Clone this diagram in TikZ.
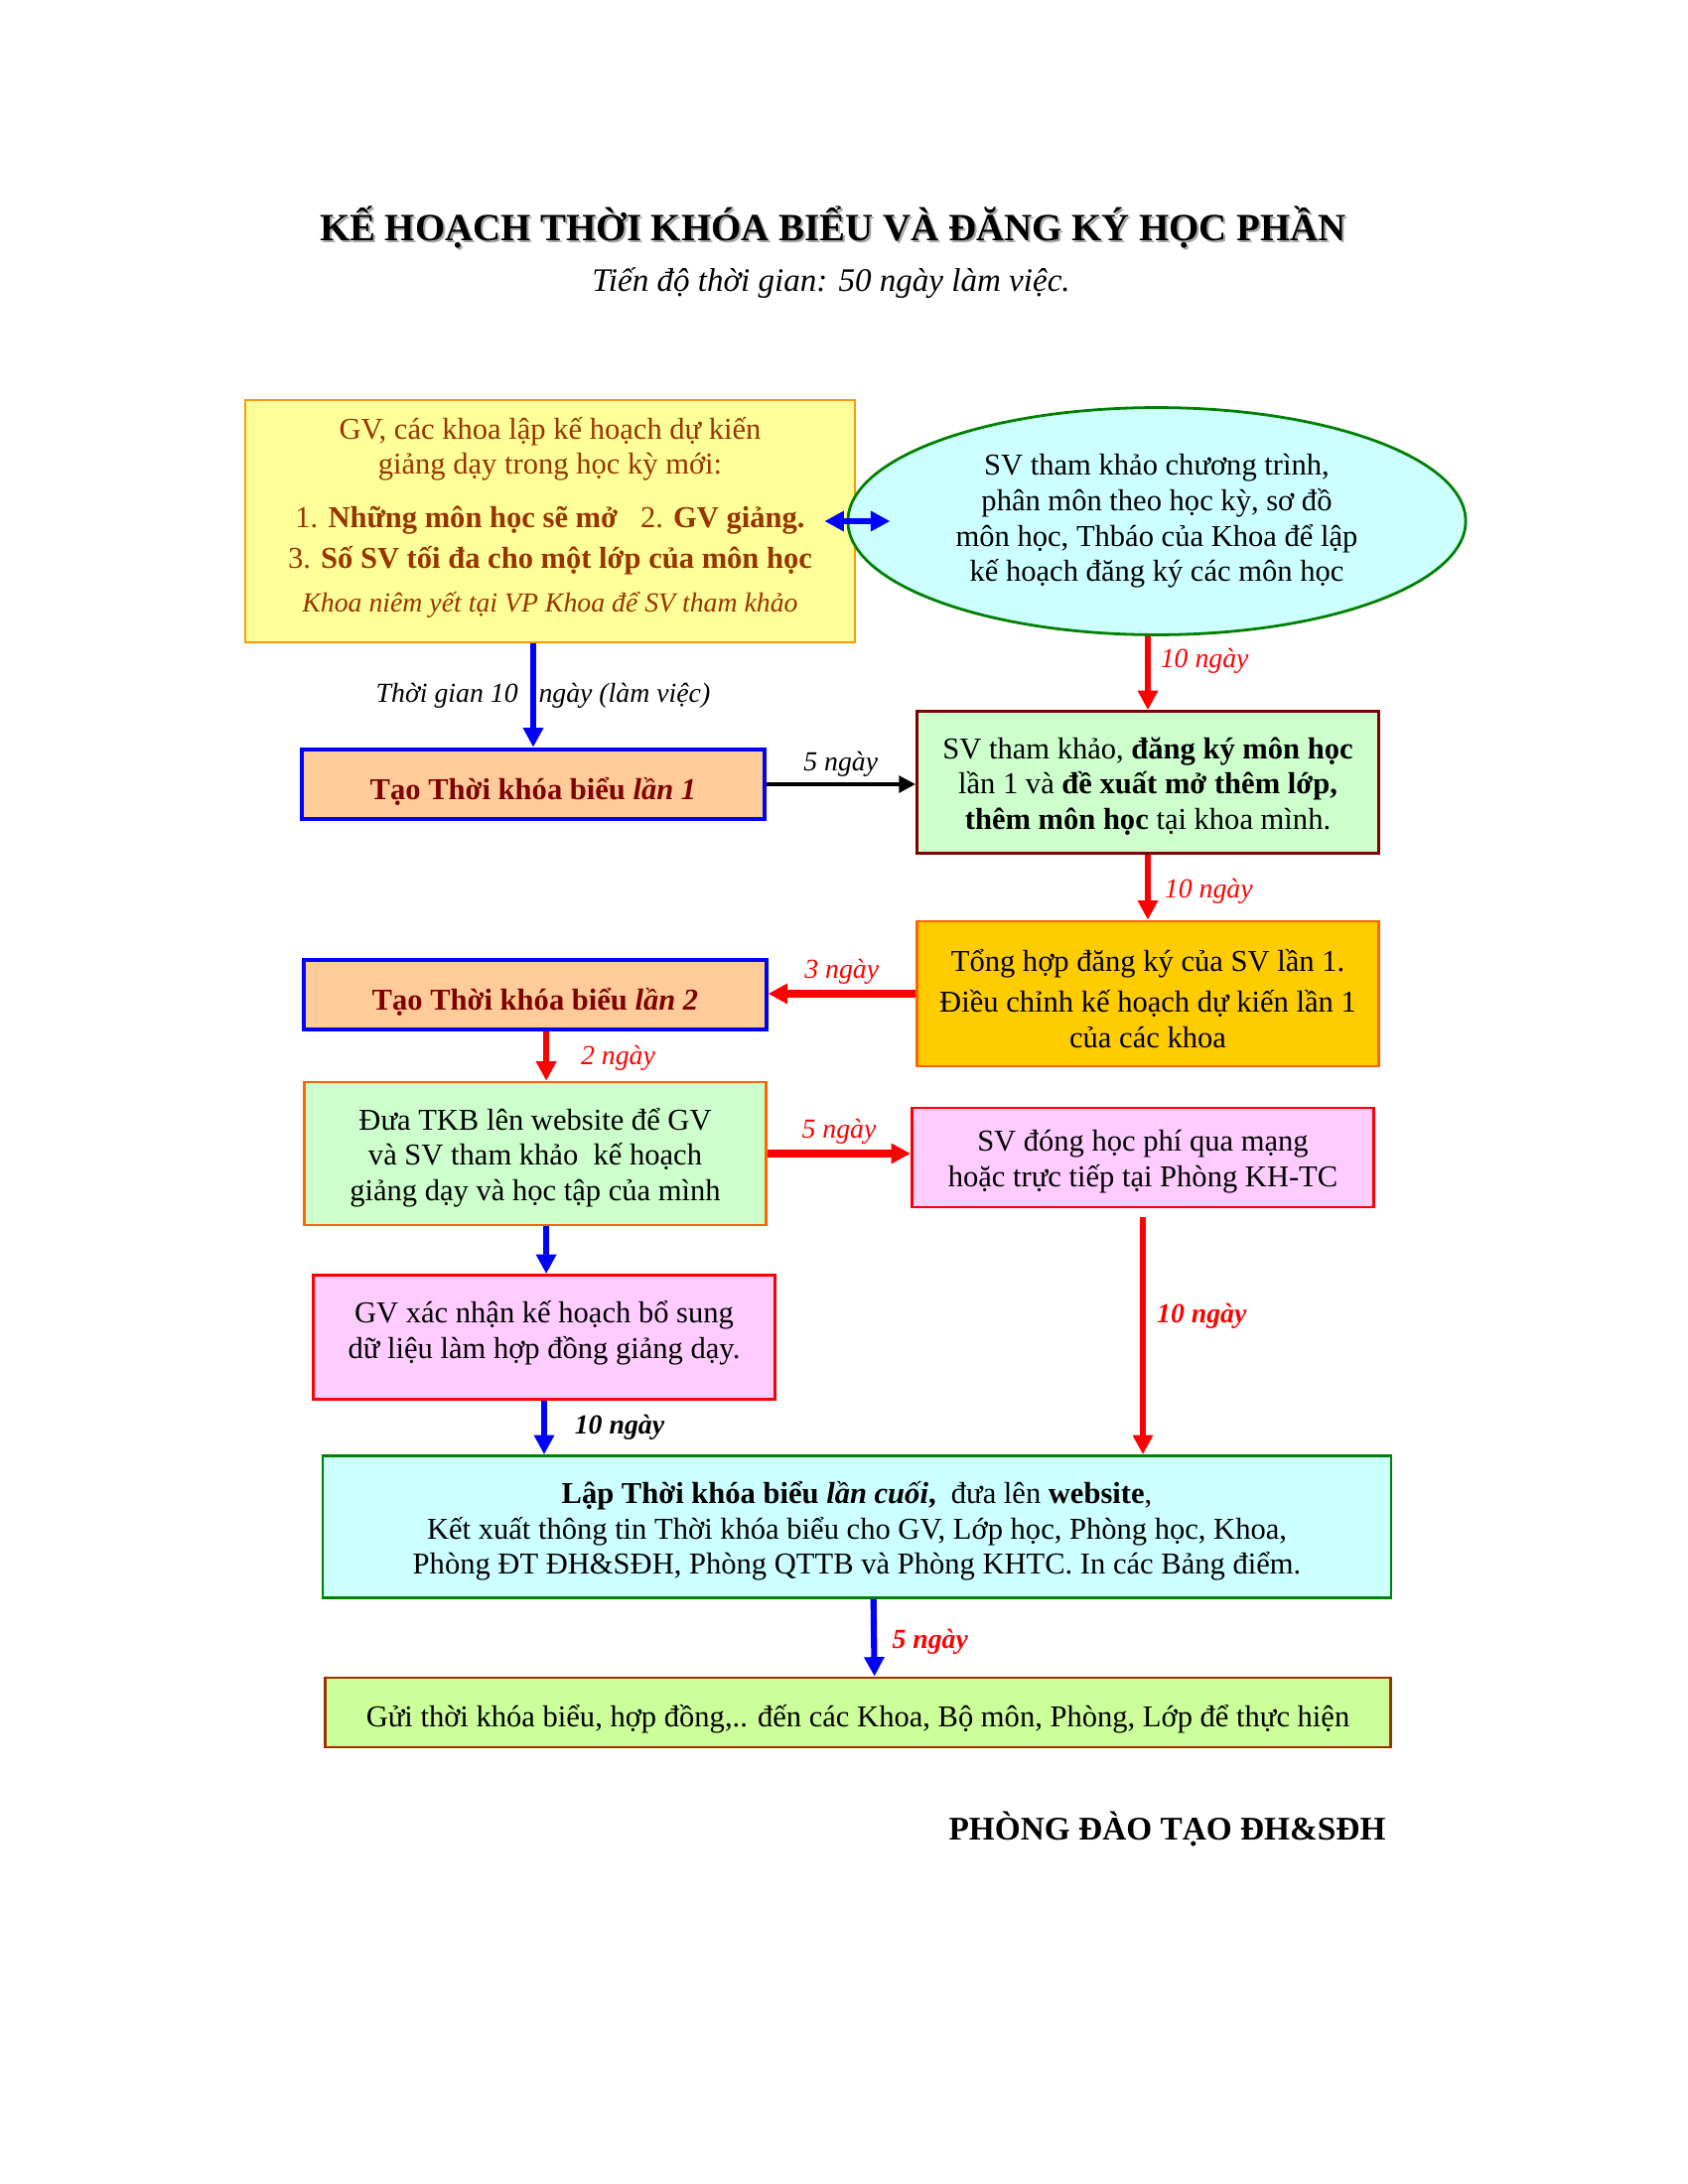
\documentclass[tikz,border=0pt]{standalone}
\usepackage{fontspec}
\setmainfont{Liberation Serif}
\usetikzlibrary{shapes.geometric,arrows.meta}
\definecolor{cBrownRed}{HTML}{993300}
\definecolor{cDarkRed}{HTML}{800000}
\definecolor{cLightYel}{HTML}{FFFF99}
\definecolor{cLightCyan}{HTML}{CCFFFF}
\definecolor{cPeach}{HTML}{FFCC99}
\definecolor{cLightGreen}{HTML}{CCFFCC}
\definecolor{cGold}{HTML}{FFCC00}
\definecolor{cPink}{HTML}{FFCCFF}
\definecolor{cLimeYel}{HTML}{CCFF99}
\definecolor{cOrange}{HTML}{FF9900}
\definecolor{cDarkOrange}{HTML}{FF6600}
\definecolor{cGreen}{HTML}{008000}
\newcommand{\lowstrut}[1]{\rule{0pt}{#1}}
\begin{document}
\begin{tikzpicture}[x=0.36pt,y=-0.36pt,font=\fontsize{11}{12.8}\selectfont]
  \tikzstyle{box}=[draw,rectangle,line width=1pt,align=center,inner sep=2pt,minimum width=167.5pt]
  \tikzstyle{tkb}=[box,fill=cPeach,draw=blue,line width=1.4pt,text=cDarkRed,font=\fontsize{11}{12.8}\selectfont\bfseries,minimum height=25.5pt,text height=11.5pt,text depth=0pt]
  \tikzstyle{days}=[font=\fontsize{10}{12}\selectfont\itshape,text=red,inner sep=2pt]
  \tikzstyle{arr}=[-{Triangle[length=7pt,width=7pt]},line width=2.2pt]
  \useasboundingbox (0,0) rectangle (1700,2200);
  % title
  \node[text=black!35,font=\fontsize{14}{16}\selectfont\bfseries] (titleshadow) at (841,231) {KẾ HOẠCH THỜI KHÓA BIỂU VÀ ĐĂNG KÝ HỌC PHẦN};
  \node[font=\fontsize{14}{16}\selectfont\bfseries] (title) at (839,229) {KẾ HOẠCH THỜI KHÓA BIỂU VÀ ĐĂNG KÝ HỌC PHẦN};
  \node[font=\fontsize{11.9}{14}\selectfont\itshape] (subtitle) at (837,285) {Tiến độ thời gian: 50 ngày làm việc.};
  % boxes
  \node[box,fill=cLightYel,draw=cOrange,text=cBrownRed,minimum width=221pt,minimum height=87.8pt] (yel) at (554,525)
    {GV, các khoa lập kế hoạch dự kiến\\ giảng dạy trong học kỳ mới:\\[6.5pt]
     1. \textbf{Những môn học sẽ mở}\ \ \ 2. \textbf{GV giảng.}\\[2pt]
     3. \textbf{Số SV tối đa cho một lớp của môn học}\\[3pt]
     {\fontsize{10}{12}\selectfont\itshape Khoa niêm yết tại VP Khoa để SV tham khảo\rule[-5pt]{0pt}{1pt}}};
  \node[ellipse,draw=cGreen,line width=1pt,fill=cLightCyan,align=center,inner sep=0pt,minimum width=224pt,minimum height=82.4pt] (ell) at (1165,525)
    {SV tham khảo chương trình,\\ phân môn theo học kỳ, sơ đồ\\ môn học, Thbáo của Khoa để lập\\ kế hoạch đăng ký các môn học};
  \node[tkb] (tao1) at (537,790) {Tạo Thời khóa biểu \textit{lần 1}};
  \node[box,fill=cLightGreen,draw=cDarkRed,minimum height=51.5pt] (sv1) at (1156,788)
    {\lowstrut{10.5pt}SV tham khảo, \textbf{đăng ký môn học}\\ lần 1 và \textbf{đề xuất mở thêm lớp,}\\ \textbf{thêm môn học} tại khoa mình.};
  \node[box,fill=cGold,draw=cDarkOrange,minimum height=52.6pt] (tong) at (1156,1001)
    {\lowstrut{11.5pt}Tổng hợp đăng ký của SV lần 1.\\[2pt] Điều chỉnh kế hoạch dự kiến lần 1\\ của các khoa};
  \node[tkb] (tao2) at (539,1002) {Tạo Thời khóa biểu \textit{lần 2}};
  \node[box,fill=cLightGreen,draw=cDarkOrange,minimum height=51.8pt] (dua) at (539,1162)
    {\lowstrut{11pt}Đưa TKB lên website để GV\\ và SV tham khảo\ \ kế hoạch\\ giảng dạy và học tập của mình};
  \node[box,fill=cPink,draw=red,minimum height=36pt] (svd) at (1151,1166)
    {\lowstrut{10.5pt}SV đóng học phí qua mạng\\ hoặc trực tiếp tại Phòng KH-TC};
  \node[box,fill=cPink,draw=red,minimum height=45pt] (gvx) at (548,1347)
    {GV xác nhận kế hoạch bổ sung\\ dữ liệu làm hợp đồng giảng dạy.\rule[-5.5pt]{0pt}{1pt}};
  \node[box,fill=cLightCyan,draw=cGreen,minimum width=387.4pt,minimum height=51.5pt] (lap) at (863,1538)
    {\lowstrut{11pt}\textbf{Lập Thời khóa biểu \textit{lần cuối},}\ \ đưa lên \textbf{website},\\
     Kết xuất thông tin Thời khóa biểu cho GV, Lớp học, Phòng học, Khoa,\\
     Phòng ĐT ĐH\&SĐH, Phòng QTTB và Phòng KHTC. In các Bảng điểm.};
  \node[box,fill=cLimeYel,draw=cBrownRed,minimum width=386.3pt,minimum height=25.2pt] (gui) at (864,1725)
    {\lowstrut{13pt}Gửi thời khóa biểu, hợp đồng,.. đến các Khoa, Bộ môn, Phòng, Lớp để thực hiện};
  \node[anchor=east,inner sep=0pt,font=\fontsize{12}{14}\selectfont\bfseries] (phong) at (1396,1842) {PHÒNG ĐÀO TẠO ĐH\&SĐH};
  % arrows
  \draw[{Triangle[length=7pt,width=7pt]}-{Triangle[length=7pt,width=7pt]},line width=2.2pt,blue]
    ([xshift=-11.5pt]yel.east) -- ([xshift=15.8pt]ell.west);
  \draw[arr,blue] (tao1.north |- yel.south) -- node[days,text=black,xshift=3.6pt]
    {Thời gian 10\ \ \ ngày (làm việc)} (tao1.north);
  \draw[arr,red] (sv1.north |- ell.south) -- node[days,pos=0.34,right,xshift=1.5pt] {10 ngày} (sv1.north);
  \draw[-{Triangle[length=6pt,width=6pt]},line width=1.4pt] (tao1.east) -- node[days,text=black,above] {5 ngày} (tao1.east -| sv1.west);
  \draw[arr,red] (sv1) -- node[days,pos=0.56,right,xshift=3pt] {10 ngày} (tong);
  \draw[arr,red,line width=2.6pt] (tong.west) -- node[days,above] {3 ngày} (tong.west -| tao2.east);
  \draw[arr,red] ([xshift=4pt]tao2.south) -- node[days,pos=0.54,right,xshift=9.5pt] {2 ngày} ([xshift=4pt]dua.north);
  \draw[arr,red,line width=2.6pt] (dua.east) -- node[days,above] {5 ngày} (dua.east -| svd.west);
  \draw[arr,blue] ([xshift=4pt]dua.south) -- ([xshift=4pt]dua.south |- gvx.north);
  \draw[arr,red] ([yshift=-3pt]svd.south) -- node[days,pos=0.42,right,xshift=2pt,font=\fontsize{10}{12}\selectfont\bfseries\itshape] {10 ngày} (svd.south |- lap.north);
  \draw[arr,blue] (gvx.south) -- node[days,right,xshift=8pt,text=black,font=\fontsize{10}{12}\selectfont\bfseries\itshape] {10 ngày} (gvx.south |- lap.north);
  \draw[arr,blue] ([xshift=6pt]lap.south) -- node[days,pos=0.55,right,xshift=3.5pt,font=\fontsize{10}{12}\selectfont\bfseries\itshape] {5 ngày} ([xshift=6pt]gui.north);
\end{tikzpicture}
\end{document}
